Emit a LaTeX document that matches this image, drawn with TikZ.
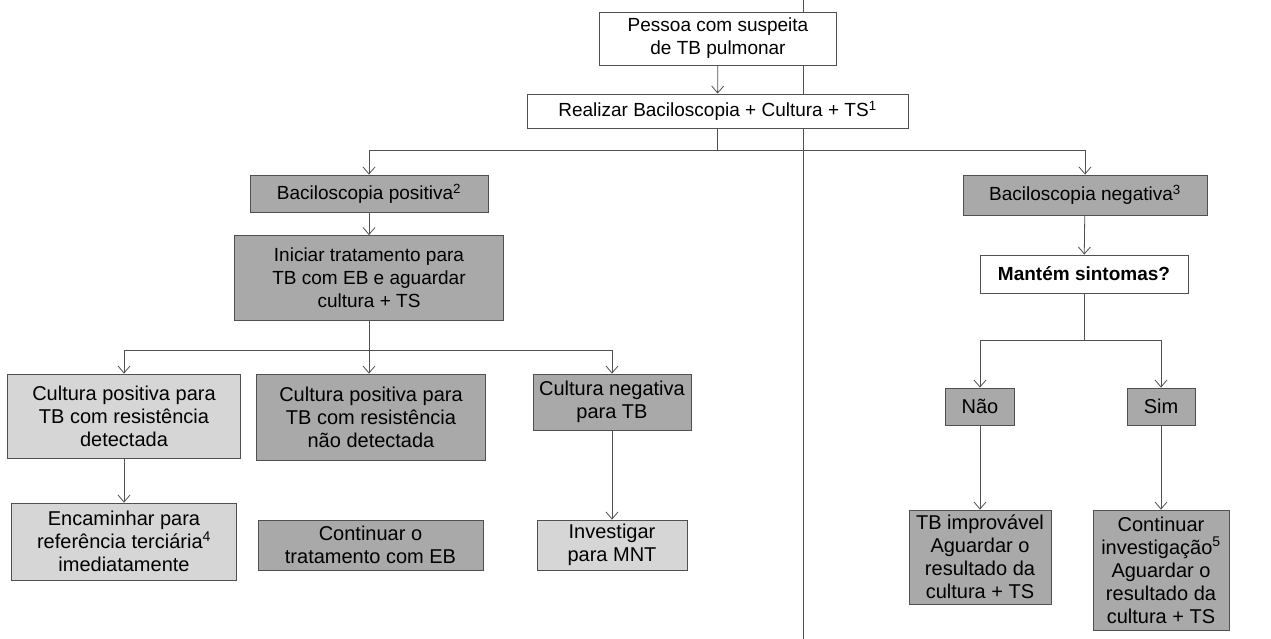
\documentclass[tikz,border=0pt]{standalone}
\usepackage{fontspec}
\setmainfont{Liberation Sans}
\usetikzlibrary{arrows.meta}
\definecolor{darkfill}{HTML}{A9A9A9}
\definecolor{lightfill}{HTML}{D6D6D6}
\definecolor{linecol}{HTML}{505050}
\begin{document}
\begin{tikzpicture}[x=1pt,y=-1pt,
  box/.style={rectangle,draw=linecol,line width=0.8pt,inner sep=0pt,align=center,
    font=\fontsize{19}{23}\selectfont},
  wbox/.style={box,fill=white},
  dbox/.style={box,fill=darkfill},
  lbox/.style={box,fill=lightfill},
  big/.style={font=\fontsize{20}{23}\selectfont},
  conn/.style={draw=linecol,line width=0.8pt},
  arr/.style={conn,-{Straight Barb[length=7pt,width=12pt]}}]
\useasboundingbox (0,0) rectangle (1271,639);
\fill[white] (0,0) rectangle (1271,639);
% separator line
\draw[linecol,line width=0.8pt] (803,0) -- (803,639);

\node[wbox,minimum width=237,minimum height=53] (pessoa) at (718,38.5) {Pessoa com suspeita\\de TB pulmonar};
\node[wbox,minimum width=381,minimum height=34] (realizar) at (717.5,111) {Realizar Baciloscopia + Cultura + TS\textsuperscript{1}};
\node[dbox,minimum width=238,minimum height=37] (bpos) at (369,193.5) {Baciloscopia positiva\textsuperscript{2}};
\node[dbox,minimum width=244,minimum height=40] (bneg) at (1085,195) {Baciloscopia negativa\textsuperscript{3}};
\node[dbox,minimum width=269,minimum height=85] (iniciar) at (369,278) {Iniciar tratamento para\\TB com EB e aguardar\\cultura + TS};
\node[lbox,big,minimum width=233,minimum height=84] (cpd) at (124,416) {Cultura positiva para\\TB com resistência\\detectada};
\node[dbox,big,minimum width=229,minimum height=86] (cpn) at (371,417) {Cultura positiva para\\TB com resistência\\não detectada};
\node[dbox,big,minimum width=158,minimum height=56] (cneg) at (612,402) {Cultura negativa\\para TB};
\node[lbox,big,minimum width=225,minimum height=77] (enc) at (124,541.5) {Encaminhar para\\referência terciária\textsuperscript{4}\\imediatamente};
\node[dbox,big,minimum width=225,minimum height=50] (cont) at (370.5,545) {Continuar o\\tratamento com EB};
\node[lbox,big,minimum width=150,minimum height=50] (inv) at (612,545) {Investigar\\para MNT};
\node[wbox,minimum width=208,minimum height=38,font=\bfseries\fontsize{19}{23}\selectfont] (mant) at (1084,274) {Mantém sintomas?};
\node[dbox,big,minimum width=69,minimum height=37] (nao) at (980,406.5) {Não};
\node[dbox,big,minimum width=68,minimum height=37] (sim) at (1161,406.5) {Sim};
\node[dbox,big,minimum width=142,minimum height=94] (improv) at (980,557) {TB improvável\\Aguardar o\\resultado da\\cultura + TS};
\node[dbox,big,minimum width=136,minimum height=120] (cinv) at (1161,570) {Continuar\\investigação\textsuperscript{5}\\Aguardar o\\resultado da\\cultura + TS};

\coordinate (j1) at (717.5,150);
\coordinate (j2) at (369,350);
\coordinate (j3) at (1084,340);

\draw[arr] (pessoa) -- (realizar);
\draw[conn] (realizar) -- (j1);
\draw[arr] (j1) -| (bpos);
\draw[arr] (j1) -| (bneg);
\draw[arr] (bpos) -- (iniciar);
\draw[conn] (iniciar) -- (j2);
\draw[arr] (j2) -| (cpd);
\draw[arr] (j2) -- (j2 |- cpn.north);
\draw[arr] (j2) -| (cneg);
\draw[arr] (cpd) -- (enc);
\draw[arr] (cneg) -- (inv);
\draw[arr] (bneg) -- (mant);
\draw[conn] (mant) -- (j3);
\draw[arr] (j3) -| (nao);
\draw[arr] (j3) -| (sim);
\draw[arr] (nao) -- (improv);
\draw[arr] (sim) -- (cinv);
\end{tikzpicture}
\end{document}
